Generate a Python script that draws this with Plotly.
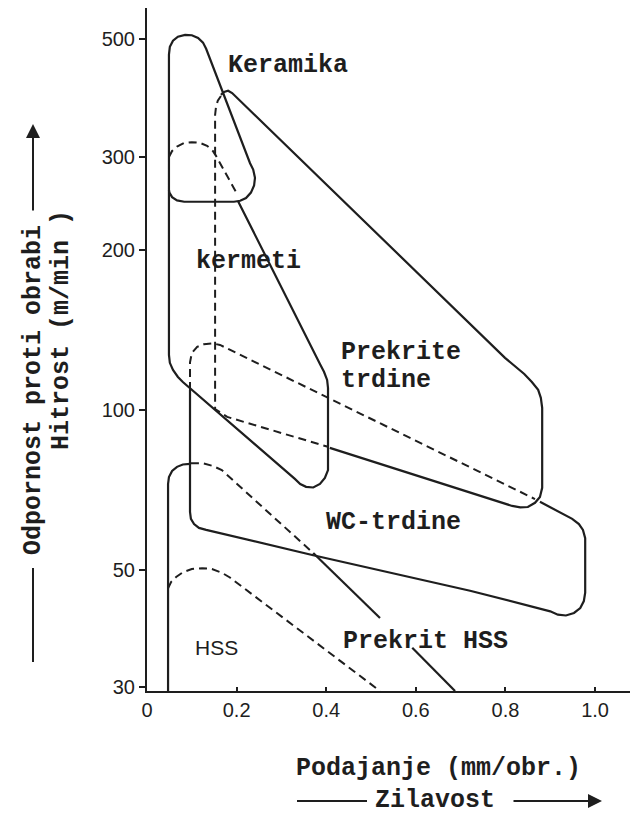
import plotly.graph_objects as go
import math

# ---- data (feed in mm/rev, cutting speed in m/min) ----
keramika_x = [0.049, 0.049, 0.051, 0.058, 0.069, 0.085, 0.100, 0.114, 0.125, 0.132, 0.230, 0.237,
              0.241, 0.239, 0.232, 0.221, 0.208, 0.194, 0.083, 0.067, 0.056, 0.050, 0.049]
keramika_y = [260, 468, 484, 497, 506, 510, 509, 503, 493, 480, 292, 284,
              274, 265, 257, 251, 248, 247, 247, 248.5, 252, 257, 260]

kermeti_x = [0.049, 0.049, 0.051, 0.058, 0.069, 0.080, 0.330, 0.342, 0.355, 0.371, 0.386, 0.397,
             0.404, 0.404, 0.402, 0.395, 0.386, 0.203]
kermeti_y = [260, 127, 122.7, 119, 115.4, 112.9, 74.1, 72.5, 71.6, 71.4, 72.5, 74.4,
             77, 110, 113.9, 118, 122.1, 247.9]

kermeti_dash_x = [0.049, 0.056, 0.067, 0.083, 0.100, 0.118, 0.134, 0.147, 0.154, 0.201]
kermeti_dash_y = [300, 308, 314, 319, 320, 319, 315, 308, 301.5, 255.6]

prekrite_x = [0.165, 0.172, 0.181, 0.190, 0.799, 0.821, 0.842, 0.859, 0.873, 0.879, 0.882, 0.882,
              0.877, 0.866, 0.850, 0.833, 0.815, 0.408]
prekrite_y = [393, 398, 400, 396, 125.4, 121.1, 116.9, 112.9, 109.1, 105.4, 100.9, 71.3,
              68.5, 66.8, 65.6, 65.5, 65.9, 84.8]

prekrite_dash_x = [0.165, 0.158, 0.154, 0.152, 0.152, 0.179, 0.404]
prekrite_dash_y = [391, 383, 373, 360, 100.4, 97, 85.2]

prekrite_low_dash_x = [0.096, 0.096, 0.100, 0.112, 0.127, 0.147, 0.163, 0.866]
prekrite_low_dash_y = [109, 123, 128, 131.5, 133, 133.5, 132.6, 67.9]

wc_x = [0.096, 0.096, 0.098, 0.105, 0.116, 0.132, 0.371, 0.721, 0.900, 0.917, 0.935, 0.953,
        0.967, 0.975, 0.978, 0.978, 0.973, 0.964, 0.949, 0.877]
wc_y = [109, 64.2, 62.3, 60.9, 59.9, 59.4, 53.2, 45.6, 41.7, 41.1, 40.95, 41.4,
        42.3, 43.6, 45.2, 57.3, 59.4, 60.9, 62.3, 67.1]

hss_x = [0.047, 0.047, 0.049, 0.056, 0.067, 0.080, 0.096]
hss_y = [29.5, 72.5, 74.7, 76.7, 78.1, 78.9, 79.1]

phss_dash_x = [0.098, 0.125, 0.147, 0.167, 0.371]
phss_dash_y = [79.3, 79.3, 78.4, 77.0, 53.7]

phss_solid1_x = [0.371, 0.520]
phss_solid1_y = [53.7, 40.5]
phss_solid2_x = [0.592, 0.6875]
phss_solid2_y = [35.6, 29.5]

hss_dash_x = [0.047, 0.054, 0.065, 0.080, 0.100, 0.123, 0.145, 0.167, 0.185, 0.520]
hss_dash_y = [46.1, 47.4, 48.4, 49.4, 50.1, 50.3, 50.1, 49.3, 48.3, 29.5]

x_ticks = [0, 0.2, 0.4, 0.6, 0.8, 1.0]
x_ticktext = ["0", "0.2", "0.4", "0.6", "0.8", "1.0"]
y_ticks = [30, 50, 100, 200, 300, 500]
y_ticktext = ["30", "50", "100", "200", "300", "500"]

# ---- figure ----
INK = "#1e1e1e"
MONO = "Liberation Mono, Courier New, monospace"
SANS = "Liberation Sans, Arial, sans-serif"

fig = go.Figure()

solid = [(keramika_x, keramika_y), (kermeti_x, kermeti_y), (prekrite_x, prekrite_y),
         (wc_x, wc_y), (hss_x, hss_y), (phss_solid1_x, phss_solid1_y),
         (phss_solid2_x, phss_solid2_y)]
dashed = [(kermeti_dash_x, kermeti_dash_y), (prekrite_dash_x, prekrite_dash_y),
          (prekrite_low_dash_x, prekrite_low_dash_y), (phss_dash_x, phss_dash_y),
          (hss_dash_x, hss_dash_y)]

for xs, ys in solid:
    fig.add_trace(go.Scatter(x=xs, y=ys, mode="lines", line=dict(color=INK, width=2.2),
                             showlegend=False, hoverinfo="skip"))
for xs, ys in dashed:
    fig.add_trace(go.Scatter(x=xs, y=ys, mode="lines",
                             line=dict(color=INK, width=2, dash="8px,5px"),
                             showlegend=False, hoverinfo="skip"))

# page body has an 8px margin: the figure is offset by 8px
OFF = 8
W, H = 638 - OFF, 814 - OFF
L, R, T, B = 147 - OFF, 8, 8 - OFF, 123
PW, PH = W - L - R, H - T - B


def px(xp):
    return (xp - OFF - L) / PW


def py(yp):
    return (H - B - (yp - OFF)) / PH


def label(text, xp, yp, anchor="left", font=MONO, size=25, angle=0, bold=True):
    t = "<b>%s</b>" % text if bold else text
    fig.add_annotation(text=t, x=px(xp), y=py(yp), xref="paper", yref="paper",
                       xanchor=anchor, yanchor="middle", showarrow=False, textangle=angle,
                       font=dict(family=font, size=size, color=INK))


label("Keramika", 226, 65)
label("kermeti", 194, 262)
label("Prekrite", 339, 353)
label("trdine", 339, 380)
label("WC-trdine", 324, 522)
label("Prekrit HSS", 341, 641)
label("HSS", 216, 647, anchor="center", font=SANS, size=21, bold=False)

# axis titles
label("Podajanje (mm/obr.)", 294, 768)
label("Zilavost", 373, 800)
label("Odpornost proti obrabi", 33, 390, anchor="center", angle=-90)
label("Hitrost (m/min )", 62, 330, anchor="center", angle=-90)

# arrow lines for titles
fig.add_shape(type="line", xref="paper", yref="paper", x0=px(297), x1=px(367),
              y0=py(801), y1=py(801), line=dict(color=INK, width=2))
fig.add_annotation(x=px(602), y=py(801), xref="paper", yref="paper", ax=-90, ay=0,
                   text="", showarrow=True, arrowhead=2, arrowsize=1.4, arrowwidth=2,
                   arrowcolor=INK)
fig.add_shape(type="line", xref="paper", yref="paper", x0=px(33), x1=px(33),
              y0=py(662), y1=py(568), line=dict(color=INK, width=2))
fig.add_annotation(x=px(33), y=py(124), xref="paper", yref="paper", ax=0, ay=88,
                   text="", showarrow=True, arrowhead=2, arrowsize=1.4, arrowwidth=2,
                   arrowcolor=INK)

fig.update_layout(
    width=W, height=H,
    margin=dict(l=L, r=R, t=T, b=B),
    paper_bgcolor="white", plot_bgcolor="white",
    showlegend=False,
    xaxis=dict(range=[0, 1.078], tickvals=x_ticks, ticktext=x_ticktext,
               showgrid=False, zeroline=False, showline=True, linecolor=INK, linewidth=2,
               ticks="inside", ticklen=4, tickwidth=1.5, tickcolor=INK,
               tickfont=dict(family=SANS, size=20, color=INK)),
    yaxis=dict(type="log", range=[math.log10(29.5), math.log10(573)],
               tickvals=y_ticks, ticktext=y_ticktext,
               showgrid=False, zeroline=False, showline=True, linecolor=INK, linewidth=2,
               ticks="outside", ticklen=6, tickwidth=1.5, tickcolor=INK,
               tickfont=dict(family=SANS, size=20, color=INK)),
)

fig.write_html("out.html")
